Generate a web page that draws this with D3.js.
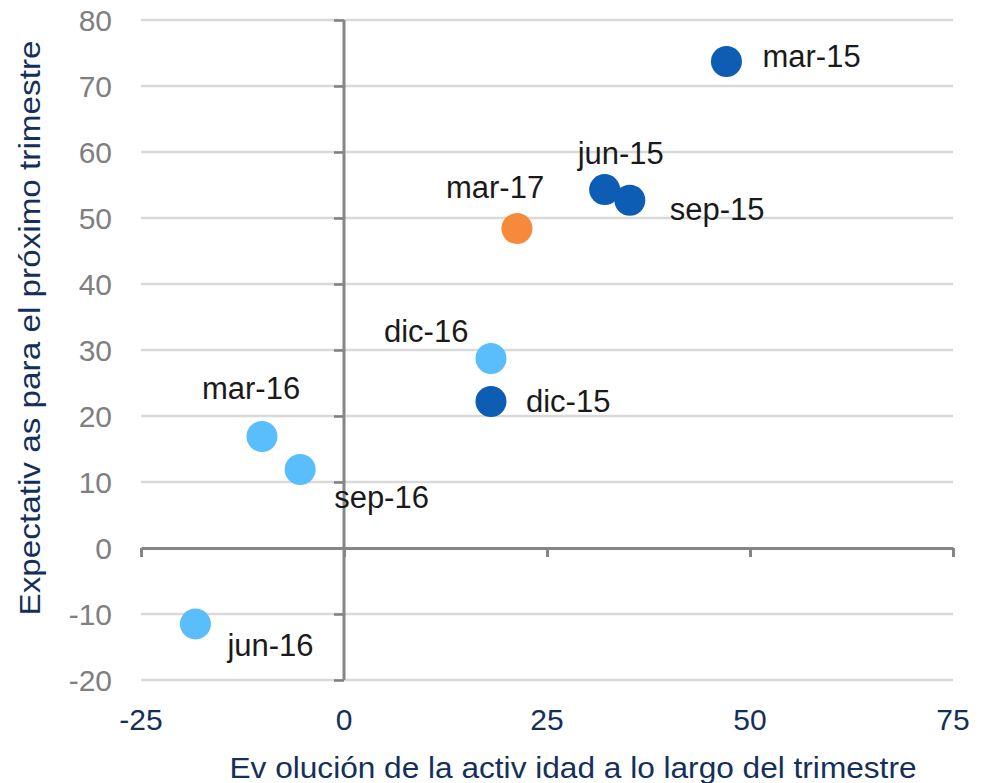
<!DOCTYPE html>
<html>
<head>
<meta charset="utf-8">
<script src="https://cdn.jsdelivr.net/npm/d3@7"></script>
<style>
  html, body { margin: 0; padding: 0; background: #fff; }
  svg { display: block; font-family: "Liberation Sans", Arial, sans-serif; }
</style>
</head>
<body>
<svg id="chart" width="982" height="783"></svg>
<script>
// Quarterly survey: activity during the quarter vs. expectations for the next one
const periods     = ["mar-15", "jun-15", "sep-15", "dic-15", "mar-16", "jun-16", "sep-16", "dic-16", "mar-17"];
const activity    = [47.1, 32.1, 35.2, 18.1, -10.1, -18.3, -5.4, 18.1, 21.3];
const expectation = [73.7, 54.3, 52.7, 22.2, 16.9, -11.5, 11.9, 28.7, 48.4];
const years       = ["2015", "2015", "2015", "2015", "2016", "2016", "2016", "2016", "2017"];

const xTicks = [-25, 0, 25, 50, 75];
const yTicks = [-20, -10, 0, 10, 20, 30, 40, 50, 60, 70, 80];

const xTitle = "Ev olución de la activ idad a lo largo del trimestre";
const yTitle = "Expectativ as para el próximo trimestre";

// Label placement relative to each marker (text start, vertical centre)
const labelOffset = {
  "mar-15": [36, -5],  "jun-15": [-27, -36], "sep-15": [40, 9],
  "dic-15": [35, 0],   "mar-16": [-60, -48], "jun-16": [32, 21],
  "sep-16": [34, 28],  "dic-16": [-107, -27], "mar-17": [-71, -41]
};

const yearColor = d3.scaleOrdinal()
  .domain(["2015", "2016", "2017"])
  .range(["#0C5DB3", "#5ABDFC", "#F68A3A"]);

const svg = d3.select("#chart");
const plot = { left: 141, right: 953, top: 20, bottom: 680 };

const x = d3.scaleLinear().domain([-25, 75]).range([plot.left, plot.right]);
const y = d3.scaleLinear().domain([-20, 80]).range([plot.bottom, plot.top]);

// Horizontal gridlines
svg.append("g")
  .selectAll("line")
  .data(yTicks.filter(t => t !== 0))
  .join("line")
  .attr("x1", plot.left).attr("x2", plot.right)
  .attr("y1", d => y(d)).attr("y2", d => y(d))
  .attr("stroke", "#D9D9D9").attr("stroke-width", 2.5);

// Y axis through x = 0
const yAxis = d3.axisLeft(y).tickValues(yTicks).tickSize(10).tickFormat("");
const gy = svg.append("g").attr("transform", `translate(${x(0)},0)`).call(yAxis);
gy.select(".domain").remove();
gy.selectAll(".tick line").attr("stroke", "#7F7F7F").attr("stroke-width", 2.5);
svg.append("line")
  .attr("x1", x(0)).attr("x2", x(0))
  .attr("y1", y(80)).attr("y2", y(-20))
  .attr("stroke", "#868686").attr("stroke-width", 3);

// X axis through y = 0
const xAxis = d3.axisBottom(x).tickValues(xTicks).tickSize(9).tickSizeOuter(0).tickFormat("");
const gx = svg.append("g").attr("transform", `translate(0,${y(0)})`).call(xAxis);
gx.select(".domain").attr("stroke", "#868686").attr("stroke-width", 3);
gx.selectAll(".tick line").attr("stroke", "#868686").attr("stroke-width", 3);

// Tick labels
svg.append("g")
  .selectAll("text")
  .data(yTicks)
  .join("text")
  .attr("x", 112)
  .attr("y", d => y(d))
  .attr("dy", "0.35em")
  .attr("text-anchor", "end")
  .attr("font-size", 30)
  .attr("fill", "#7F7F7F")
  .text(d => d);

svg.append("g")
  .selectAll("text")
  .data(xTicks)
  .join("text")
  .attr("x", d => x(d))
  .attr("y", 719)
  .attr("dy", "0.35em")
  .attr("text-anchor", "middle")
  .attr("font-size", 30)
  .attr("fill", "#14305A")
  .text(d => d);

// Axis titles
svg.append("text")
  .attr("x", 573).attr("y", 767).attr("dy", "0.35em")
  .attr("text-anchor", "middle")
  .attr("font-size", 30)
  .attr("fill", "#14305A")
  .attr("textLength", 687).attr("lengthAdjust", "spacingAndGlyphs")
  .text(xTitle);

svg.append("text")
  .attr("transform", "translate(30,328) rotate(-90)")
  .attr("dy", "0.35em")
  .attr("text-anchor", "middle")
  .attr("font-size", 29)
  .attr("fill", "#14305A")
  .attr("textLength", 575).attr("lengthAdjust", "spacingAndGlyphs")
  .text(yTitle);

// Markers
const points = periods.map((p, i) => ({ p, x: activity[i], y: expectation[i], year: years[i] }));

svg.append("g")
  .selectAll("circle")
  .data(points)
  .join("circle")
  .attr("cx", d => x(d.x))
  .attr("cy", d => y(d.y))
  .attr("r", 15.5)
  .attr("fill", d => yearColor(d.year));

// Point labels
svg.append("g")
  .selectAll("text")
  .data(points)
  .join("text")
  .attr("x", d => x(d.x) + labelOffset[d.p][0])
  .attr("y", d => y(d.y) + labelOffset[d.p][1])
  .attr("dy", "0.35em")
  .attr("font-size", 31)
  .attr("fill", "#1A1A1A")
  .text(d => d.p);
</script>
</body>
</html>
